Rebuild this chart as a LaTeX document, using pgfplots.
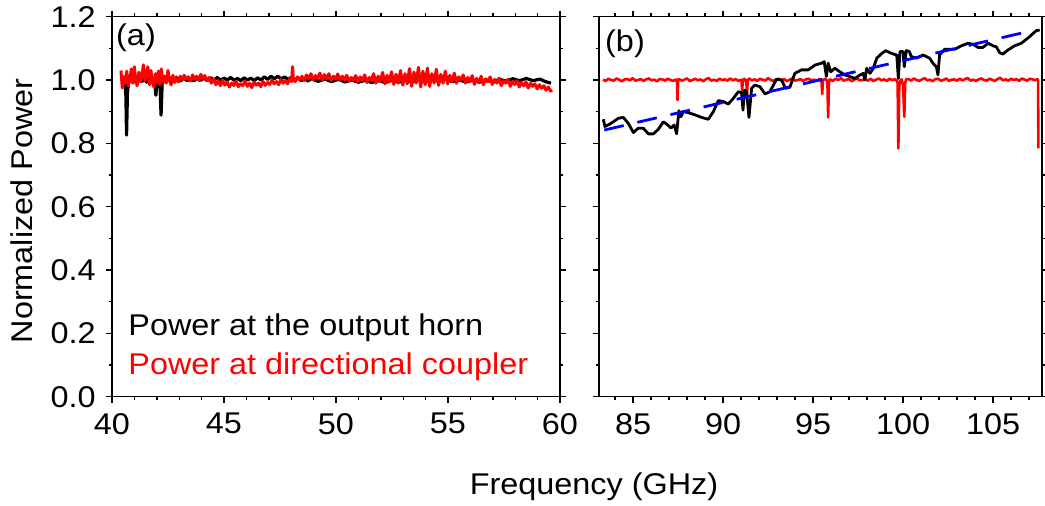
\documentclass[border=0pt]{standalone}
\usepackage{pgfplots}
\pgfplotsset{compat=1.18}
\usepackage{fontspec}
\setmainfont{Liberation Sans}[FakeStretch=1.08]
\definecolor{pred}{RGB}{255,0,0}
\definecolor{pblue}{RGB}{0,0,255}
\begin{document}
\fontsize{15}{18}\selectfont
\begin{tikzpicture}[font=\fontsize{15}{18}\selectfont]
\path[use as bounding box] (0pt,0pt) rectangle (522.5pt,253pt);
\pgfplotsset{
  myaxis/.style={
    scale only axis, anchor=south west, height=190pt,
    ymin=0, ymax=1.2,
    ytick={0,0.2,0.4,0.6,0.8,1.0,1.2},
    minor ytick={0.1,0.3,0.5,0.7,0.9,1.1},
    tick align=outside,
    major tick length=3pt, minor tick length=1.7pt,
    axis line style={line width=0.8pt},
    major tick style={line width=0.8pt, black},
    minor tick style={line width=0.7pt, black},
    /pgf/number format/assume math mode=true,
    yticklabel style={/pgf/number format/fixed, /pgf/number format/fixed zerofill, /pgf/number format/precision=1},
    xticklabel style={/pgf/number format/fixed},
    clip=true,
  }
}
% ---------- panel (a)
\begin{axis}[myaxis, at={(56pt,54.65pt)}, width=224pt,
  xmin=40, xmax=60, xtick={40,45,50,55,60}, minor xtick={41,42,...,59}]
\addplot[black, line width=1.6pt, line join=round] coordinates {
(40.46,0.99)(40.52,1.005)(40.58,0.985)(40.62,0.95)(40.65,0.826)(40.69,0.96)(40.74,0.995)(40.85,1.01)(40.95,0.993)(41.05,1.006)(41.15,0.994)(41.25,1.008)(41.35,0.996)(41.45,1.004)(41.55,0.993)(41.65,1.006)(41.75,0.995)(41.85,1.0)(41.92,0.985)(41.96,0.952)(42.0,0.99)(42.08,1.002)(42.14,0.99)(42.19,0.889)(42.24,0.99)(42.32,1.005)(42.45,0.997)(42.6,1.006)(42.75,0.996)(42.9,1.004)(43.05,0.997)(43.2,1.006)(43.35,0.998)(43.5,1.005)(43.65,0.997)(43.8,1.007)(43.95,0.999)(44.1,1.006)(44.25,0.998)(44.4,1.007)(44.55,1.0)(44.7,1.008)(44.85,0.999)(45.0,1.006)(45.15,1.0)(45.3,1.008)(45.45,0.999)(45.6,1.005)(45.75,0.998)(45.9,1.007)(46.05,1.0)(46.2,1.006)(46.35,0.998)(46.5,1.007)(46.65,1.0)(46.8,1.01)(46.95,1.002)(47.1,1.012)(47.25,1.004)(47.4,1.012)(47.55,1.003)(47.7,1.01)(47.85,1.002)(48.0,1.008)(48.15,1.0)(48.3,1.006)(48.45,0.998)(48.6,1.005)(48.75,0.997)(48.9,1.004)(49.2,0.996)(49.5,1.003)(49.8,0.995)(50.1,1.002)(50.4,0.994)(50.7,1.0)(51.0,0.993)(51.3,0.999)(51.6,0.992)(51.9,0.998)(52.2,0.992)(52.5,0.999)(52.8,0.993)(53.1,1.0)(53.4,0.994)(53.7,1.001)(54.0,0.995)(54.3,1.002)(54.6,0.996)(54.9,1.002)(55.2,0.995)(55.5,1.0)(55.8,0.994)(56.1,0.999)(56.4,0.993)(56.7,0.999)(57.0,0.995)(57.3,1.002)(57.6,0.997)(57.9,1.004)(58.2,0.998)(58.5,1.005)(58.8,0.998)(59.1,1.003)(59.35,0.995)(59.6,0.99)
};
\addplot[pred, line width=1.5pt, line join=round] coordinates {
(40.40,1.03)(40.46,0.975)(40.53,1.01)(40.58,0.99)(40.66,1.028)(40.72,0.982)(40.8,1.0)(40.86,1.035)(40.93,0.99)(41.0,1.042)(41.06,1.0)(41.12,0.982)(41.2,1.025)(41.27,0.995)(41.33,1.01)(41.4,1.048)(41.47,0.998)(41.53,1.02)(41.6,1.042)(41.67,0.985)(41.74,1.03)(41.8,0.995)(41.87,0.978)(41.94,1.02)(42.0,0.99)(42.07,1.028)(42.14,0.985)(42.2,1.035)(42.28,0.992)(42.35,1.012)(42.42,0.99)(42.5,1.03)(42.57,1.0)(42.64,0.985)(42.72,1.015)(42.8,0.992)(42.88,1.01)(42.96,0.994)(43.05,1.012)(43.14,1.0)(43.22,1.015)(43.3,1.003)(43.4,1.01)(43.5,0.997)(43.6,1.016)(43.68,1.002)(43.78,1.012)(43.88,0.998)(43.96,1.018)(44.05,1.005)(44.14,1.014)(44.24,0.998)(44.34,1.008)(44.44,0.99)(44.54,1.004)(44.64,0.985)(44.74,0.998)(44.84,0.982)(44.94,1.0)(45.04,0.984)(45.14,0.994)(45.24,0.978)(45.34,0.99)(45.44,0.983)(45.54,0.996)(45.64,0.979)(45.74,0.988)(45.84,0.982)(45.94,0.997)(46.04,0.98)(46.14,0.99)(46.24,0.976)(46.34,0.993)(46.44,0.984)(46.54,0.99)(46.64,0.979)(46.74,0.996)(46.84,0.983)(46.94,0.992)(47.04,0.986)(47.14,1.0)(47.24,0.988)(47.34,0.995)(47.44,0.985)(47.54,1.002)(47.64,0.99)(47.74,0.998)(47.84,0.988)(47.94,1.005)(48.02,0.995)(48.06,1.042)(48.1,1.0)(48.18,0.995)(48.28,1.01)(48.38,1.0)(48.48,1.012)(48.58,0.998)(48.68,1.016)(48.78,1.004)(48.88,1.02)(48.98,1.0)(49.08,1.014)(49.18,1.005)(49.28,1.022)(49.38,1.0)(49.48,1.017)(49.58,1.004)(49.68,1.02)(49.78,0.998)(49.88,1.012)(49.98,1.003)(50.08,1.019)(50.18,0.999)(50.28,1.012)(50.38,1.0)(50.48,1.015)(50.58,0.996)(50.68,1.008)(50.78,1.0)(50.88,1.014)(50.98,0.994)(51.08,1.01)(51.18,0.998)(51.28,1.016)(51.38,0.992)(51.48,1.008)(51.58,1.0)(51.68,1.02)(51.78,0.99)(51.88,1.012)(51.98,0.996)(52.08,1.024)(52.18,0.988)(52.28,1.015)(52.38,0.994)(52.48,1.026)(52.58,0.986)(52.68,1.018)(52.78,0.99)(52.88,1.03)(52.98,0.984)(53.08,1.02)(53.18,0.988)(53.28,1.036)(53.38,0.98)(53.48,1.025)(53.58,0.99)(53.68,1.04)(53.78,0.978)(53.88,1.028)(53.98,0.985)(54.08,1.038)(54.18,0.98)(54.28,1.02)(54.38,0.99)(54.48,1.034)(54.58,0.983)(54.68,1.018)(54.78,0.99)(54.88,1.028)(54.98,0.988)(55.08,1.015)(55.18,0.995)(55.28,1.022)(55.38,0.99)(55.48,1.01)(55.58,1.0)(55.68,1.016)(55.78,0.99)(55.88,1.008)(55.98,0.995)(56.08,1.014)(56.18,0.986)(56.28,1.005)(56.38,0.992)(56.48,1.012)(56.58,0.985)(56.68,1.004)(56.78,0.994)(56.88,1.01)(56.98,0.986)(57.08,1.002)(57.18,0.99)(57.28,1.006)(57.38,0.982)(57.48,0.998)(57.58,0.99)(57.68,1.002)(57.78,0.98)(57.88,0.995)(57.98,0.986)(58.08,0.998)(58.18,0.978)(58.28,0.992)(58.38,0.982)(58.48,0.994)(58.58,0.975)(58.68,0.99)(58.78,0.98)(58.88,0.988)(58.98,0.972)(59.08,0.985)(59.18,0.974)(59.28,0.982)(59.38,0.968)(59.48,0.978)(59.58,0.965)(59.65,0.968)
};
\end{axis}
% ---------- panel (b)
\begin{axis}[myaxis, at={(299.5pt,54.65pt)}, width=221.5pt,
  xmin=83.11, xmax=107.72, xtick={85,90,95,100,105}, minor xtick={84,85,...,107},
  yticklabels={}]
\addplot[pred, line width=1.3pt, line join=round] coordinates {
(83.33,1.001)(83.48,0.997)(83.63,1.004)(83.78,1.0)(83.93,0.998)(84.08,1.005)(84.23,1.001)(84.38,0.996)(84.53,1.002)(84.68,1.003)(84.83,0.999)(84.98,1.006)(85.13,0.998)(85.28,1.0)(85.43,1.003)(85.58,0.997)(85.73,1.002)(85.88,1.005)(86.03,0.999)(86.18,1.001)(86.33,0.996)(86.48,1.003)(86.63,1.002)(86.78,0.998)(86.93,1.004)(87.08,1.0)(87.23,0.997)(87.38,1.002)
(87.44,1.0)(87.47,0.937)(87.51,1.0)
(87.55,1.003)(87.7,0.998)(87.85,1.001)(88.0,1.005)(88.15,0.997)(88.3,1.0)(88.45,1.004)(88.6,0.999)(88.75,1.002)(88.9,0.996)(89.05,1.003)(89.2,1.006)(89.35,0.998)(89.5,1.001)(89.65,0.997)(89.8,1.004)(89.95,1.0)(90.1,1.002)(90.25,0.998)(90.4,1.005)(90.55,0.999)(90.7,1.003)(90.85,0.997)(91.0,1.001)
(91.03,0.995)(91.06,0.966)(91.1,1.0)(91.18,1.004)(91.26,0.998)(91.3,0.99)(91.33,0.953)(91.37,1.0)
(91.45,1.005)(91.6,0.999)(91.75,1.002)(91.9,0.997)(92.05,1.004)(92.2,1.001)(92.35,0.998)(92.5,1.006)(92.65,1.0)(92.8,0.997)(92.95,1.002)(93.1,1.004)(93.25,0.999)(93.4,1.003)(93.55,0.996)(93.7,1.001)(93.85,1.005)(94.0,0.998)(94.15,1.0)(94.3,1.003)(94.45,0.997)(94.6,1.002)(94.75,1.004)(94.9,0.999)(95.05,1.001)(95.2,0.998)(95.35,1.003)
(95.47,0.995)(95.51,0.956)(95.55,0.998)(95.65,1.004)(95.75,1.0)(95.8,0.99)(95.84,0.882)(95.89,1.0)
(95.95,1.002)(96.1,0.997)(96.25,1.004)(96.4,1.0)(96.55,1.006)(96.7,0.998)(96.85,1.001)(97.0,1.003)(97.15,0.996)(97.3,1.002)(97.45,1.005)(97.6,0.999)(97.75,1.0)(97.9,1.003)(98.05,0.998)(98.2,1.004)(98.35,0.997)(98.5,1.001)(98.65,1.005)(98.8,0.999)(98.95,1.002)(99.1,0.997)(99.25,1.004)(99.4,1.0)(99.55,1.002)(99.65,0.999)
(99.7,0.99)(99.74,0.784)(99.79,0.98)(99.85,0.998)(99.92,1.002)(100.0,0.985)(100.07,0.884)(100.12,0.99)(100.18,1.003)
(100.30,1.003)(100.45,0.998)(100.60,1.005)(100.75,1.0)(100.90,0.997)(101.05,1.002)(101.20,1.006)(101.35,0.999)(101.50,1.001)(101.65,0.996)(101.80,1.003)(101.95,1.004)(102.10,0.998)(102.25,1.0)(102.40,1.005)(102.55,0.997)(102.70,1.001)(102.85,1.002)(103.00,0.998)(103.15,1.004)(103.30,0.999)(103.45,1.003)(103.60,1.006)(103.75,0.998)(103.90,1.001)(104.05,0.997)(104.20,1.002)(104.35,1.005)(104.50,1.0)(104.65,0.998)(104.80,1.004)(104.95,1.001)(105.10,0.997)(105.25,1.003)(105.40,1.007)(105.55,0.999)(105.70,1.002)(105.85,0.998)(106.00,1.004)(106.15,1.0)(106.30,1.003)(106.45,0.997)(106.60,1.005)(106.75,1.001)(106.90,0.998)(107.05,1.004)(107.20,1.002)(107.35,0.999)(107.45,1.003)(107.5,1.0)(107.52,0.784)
};
\addplot[black, line width=1.4pt, line join=round] coordinates {
(83.35,0.876)(83.44,0.853)(83.72,0.861)(84.18,0.879)(84.46,0.882)(84.74,0.863)(85.02,0.834)(85.29,0.848)(85.57,0.848)(85.85,0.830)(86.13,0.830)(86.40,0.844)(86.68,0.868)(86.87,0.861)(87.11,0.848)(87.29,0.858)(87.42,0.830)(87.55,0.903)(87.66,0.884)(87.79,0.900)(88.07,0.897)(88.44,0.890)(88.81,0.882)(89.18,0.876)(89.46,0.900)(89.74,0.935)(90.02,0.932)(90.29,0.924)(90.57,0.942)(90.85,0.963)(91.03,0.960)(91.11,0.905)(91.19,0.968)(91.31,0.963)(91.44,0.882)(91.59,0.974)(91.77,0.984)(92.05,0.979)(92.33,0.956)(92.60,0.963)(92.97,1.002)(93.25,1.000)(93.47,0.974)(93.71,0.977)(93.99,1.021)(94.36,1.032)(94.73,1.032)(95.10,1.047)(95.47,1.053)(95.62,1.058)(95.74,1.011)(95.84,1.053)(95.98,1.026)(96.21,1.037)(96.49,1.026)(96.77,1.016)(97.05,1.011)(97.33,1.005)(97.61,1.016)(97.79,1.021)(97.88,1.0)(97.98,1.037)(98.16,1.021)(98.35,1.037)(98.54,1.069)(98.82,1.084)(99.04,1.093)(99.28,1.086)(99.52,1.081)(99.65,1.079)(99.74,1.005)(99.83,1.090)(100.0,1.090)(100.07,1.042)(100.18,1.093)(100.35,1.090)(100.46,1.074)(100.74,1.069)(101.11,1.079)(101.48,1.069)(101.66,1.053)(101.85,1.042)(101.94,1.016)(102.03,1.079)(102.31,1.097)(102.59,1.097)(102.87,1.097)(103.24,1.108)(103.61,1.116)(103.89,1.113)(104.16,1.103)(104.44,1.103)(104.72,1.116)(105.0,1.108)(105.18,1.105)(105.37,1.086)(105.55,1.082)(105.83,1.095)(106.20,1.108)(106.57,1.116)(107.03,1.137)(107.4,1.156)(107.59,1.158)
};
\addplot[pblue, line width=1.4pt, dash pattern=on 10pt off 7pt] coordinates {(83.4,0.842)(106.8,1.151)};
\end{axis}
% ---------- texts
\node at (68pt,234pt) {(a)};
\node at (312.5pt,231pt) {(b)};
\node[anchor=base west, inner sep=0pt, black] at (64pt,85pt) {Power at the output horn};
\node[anchor=base west, inner sep=0pt, text=pred] at (64pt,65.5pt) {Power at directional coupler};
\node at (297pt,9.5pt) {Frequency (GHz)};
\node[rotate=90] at (11pt,147.5pt) {Normalized Power};
\end{tikzpicture}
\end{document}
